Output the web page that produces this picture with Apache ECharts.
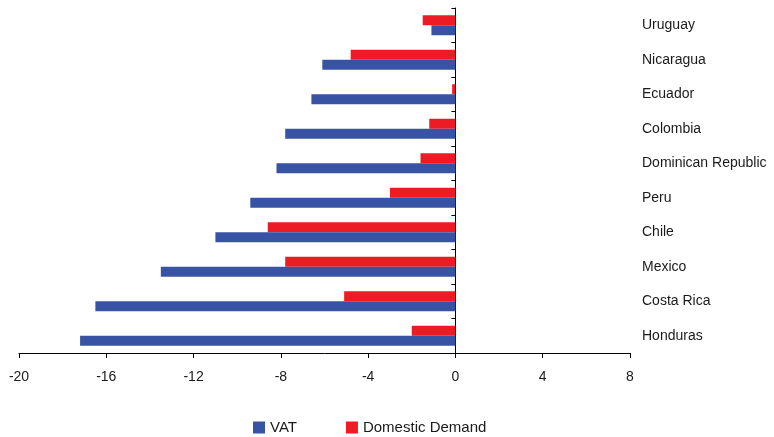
<!DOCTYPE html>
<html>
<head>
<meta charset="utf-8">
<script src="https://cdn.jsdelivr.net/npm/echarts@6/dist/echarts.min.js"></script>
<style>
  html, body { margin: 0; padding: 0; background: #ffffff; }
  #chart { width: 774px; height: 437px; }
</style>
</head>
<body>
<div id="chart"></div>
<script>
// Countries, bottom to top along the category axis
const countries = ['Honduras', 'Costa Rica', 'Mexico', 'Chile', 'Peru',
  'Dominican Republic', 'Colombia', 'Ecuador', 'Nicaragua', 'Uruguay'];
const vat = [-17.2, -16.5, -13.5, -11.0, -9.4, -8.2, -7.8, -6.6, -6.1, -1.1];
const domesticDemand = [-2.0, -5.1, -7.8, -8.6, -3.0, -1.6, -1.2, -0.15, -4.8, -1.5];
const xTicks = { min: -20, max: 8, step: 4 };

const FONT = '"Liberation Sans", Arial, sans-serif';
const INK = '#1a1a1a';

const chart = echarts.init(document.getElementById('chart'), null, { renderer: 'canvas' });
chart.setOption({
  backgroundColor: '#ffffff',
  animation: false,
  grid: { left: 19, right: 144, top: 8, bottom: 84, containLabel: false },
  legend: {
    data: ['VAT', 'Domestic Demand'],
    left: 248,
    top: 415,
    itemWidth: 12,
    itemHeight: 12,
    itemGap: 49,
    icon: 'rect',
    textStyle: { fontFamily: FONT, fontSize: 15, color: INK }
  },
  xAxis: {
    type: 'value',
    min: xTicks.min,
    max: xTicks.max,
    interval: xTicks.step,
    splitLine: { show: false },
    axisLine: { show: true, onZero: false, lineStyle: { color: '#000', width: 1 } },
    axisTick: { show: true, length: 5, lineStyle: { color: '#000' } },
    axisLabel: { fontFamily: FONT, fontSize: 14, color: INK, margin: 17 }
  },
  yAxis: [
    {
      // axis line sitting on zero with ticks between categories
      type: 'category',
      data: countries,
      position: 'left',
      axisLine: { show: true, onZero: true, lineStyle: { color: '#000', width: 1 } },
      axisTick: { show: true, length: 4, inside: false, lineStyle: { color: '#000' } },
      axisLabel: { show: false },
      splitLine: { show: false }
    },
    {
      // country names on the right
      type: 'category',
      data: countries,
      position: 'right',
      axisLine: { show: false, onZero: false },
      axisTick: { show: false },
      axisLabel: {
        fontFamily: FONT, fontSize: 14, color: INK, margin: 12, align: 'left',
        lineHeight: 14, padding: [5, 0, 0, 0]
      },
      splitLine: { show: false }
    }
  ],
  series: [
    {
      // listed first so it sits above the VAT bar in each pair
      name: 'Domestic Demand',
      type: 'bar',
      yAxisIndex: 0,
      data: domesticDemand,
      barWidth: 10,
      barGap: '0%',
      itemStyle: { color: '#ED1C24' }
    },
    {
      name: 'VAT',
      type: 'bar',
      yAxisIndex: 0,
      data: vat,
      barWidth: 10,
      barGap: '0%',
      itemStyle: { color: '#3953A4' }
    }
  ]
});
</script>
</body>
</html>
